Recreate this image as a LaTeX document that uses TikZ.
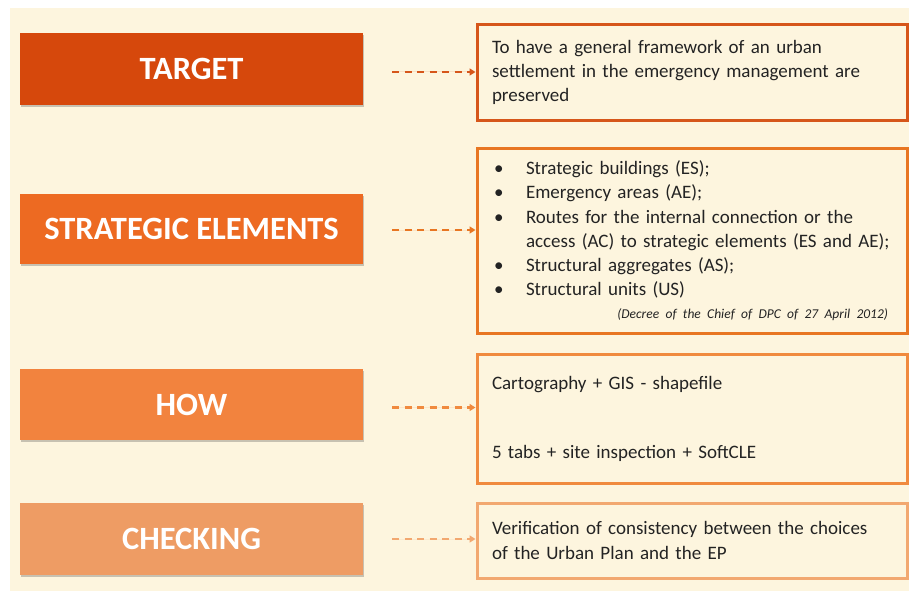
\documentclass[tikz,border=0pt]{standalone}
\usepackage{fontspec}
\setmainfont{Carlito}
\usetikzlibrary{shadows,arrows.meta}
\definecolor{bgc}{RGB}{253,245,222}
\definecolor{cA}{RGB}{214,72,12}
\definecolor{cB}{RGB}{237,106,34}
\definecolor{cC}{RGB}{242,131,62}
\definecolor{cD}{RGB}{238,156,100}
\definecolor{bA}{RGB}{214,86,26}
\definecolor{bB}{RGB}{232,118,34}
\definecolor{bC}{RGB}{240,138,62}
\definecolor{bD}{RGB}{242,168,112}
\definecolor{txt}{RGB}{35,35,35}
\newcommand\mybul{\makebox[34pt][l]{\hspace{2pt}\textbullet}}
\begin{document}
\begin{tikzpicture}[x=1pt,y=-1pt,
  lbox/.style={minimum width=343pt, inner sep=0pt, text=white,
    font=\fontsize{32.5}{36}\selectfont\bfseries,
    drop shadow={shadow xshift=0.5pt, shadow yshift=-2pt, opacity=0.3, fill=black!70}},
  rbox/.style={line width=3pt, fill=bgc, minimum width=430pt, inner xsep=14.5pt, inner ysep=0pt,
    text width=400pt, align=left, text=txt, font=\fontsize{19}{24.3}\selectfont},
  dasharrow/.style={line width=2.4pt, dash pattern=on 7pt off 5.5pt,
    -{Triangle[length=6pt,width=7pt]}, shorten <=29pt}
]
\useasboundingbox (0,0) rectangle (909,591);
\fill[bgc] (10,8) rectangle (909,591);

\node[lbox, fill=cA, minimum height=72pt] (l1) at (191.5,69) {TARGET};
\node[lbox, fill=cB, minimum height=70pt] (l2) at (191.5,229) {STRATEGIC ELEMENTS};
\node[lbox, fill=cC, minimum height=71pt] (l3) at (191.5,404.5) {HOW};
\node[lbox, fill=cD, minimum height=72pt] (l4) at (191.5,539) {CHECKING};

\node[rbox, draw=bA, minimum height=95pt] (r1) at (692,72.5)
  {To have a general framework of an urban\\
   settlement in the emergency management are\\
   preserved};
\node[rbox, draw=bB, minimum height=185pt] (r2) at (692,240.5)
  {\mybul Strategic buildings (ES);\\
   \mybul Emergency areas (AE);\\
   \mybul Routes for the internal connection or the\\
   \hspace*{34pt}access (AC) to strategic elements (ES and AE);\\
   \mybul Structural aggregates (AS);\\
   \mybul Structural units (US)\\[-2pt]
   \hspace*{\fill}{\fontsize{13.5}{17}\selectfont\itshape (Decree of the Chief of DPC of 27 April 2012)}\hspace*{4pt}};
\node[rbox, draw=bC, minimum height=129pt] (r3) at (692,418.5)
  {Cartography + GIS - shapefile\\[44.7pt]
   5 tabs + site inspection + SoftCLE};
\node[rbox, draw=bD, minimum height=75pt] (r4) at (692,540.5)
  {Verification of consistency between the choices\\
   of the Urban Plan and the EP};

\draw[dasharrow, draw=bA, fill=bA] ([yshift=-3pt]l1.east) -- ([yshift=-3pt]l1.east -| r1.west);
\draw[dasharrow, draw=bB, fill=bB] ([yshift=-1pt]l2.east) -- ([yshift=-1pt]l2.east -| r2.west);
\draw[dasharrow, draw=bC, fill=bC] ([yshift=-3pt]l3.east) -- ([yshift=-3pt]l3.east -| r3.west);
\draw[dasharrow, draw=bD, fill=bD] (l4.east) -- (l4.east -| r4.west);
\end{tikzpicture}
\end{document}
